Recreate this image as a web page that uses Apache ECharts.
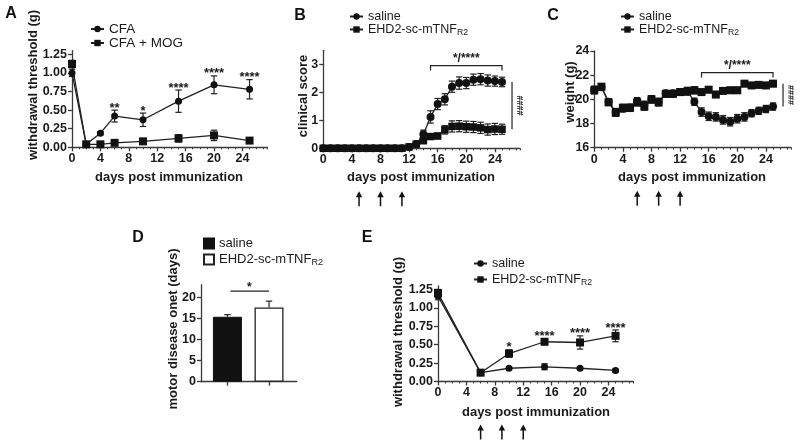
<!DOCTYPE html>
<html><head><meta charset="utf-8">
<script src="https://cdn.jsdelivr.net/npm/echarts@6/dist/echarts.min.js"></script>
<style>html,body{margin:0;padding:0;background:#fff}#c{width:800px;height:448px}</style>
</head><body><div id="c"></div>
<script>
// ---------------- data ----------------
const xTickDays = [0, 4, 8, 12, 16, 20, 24];

// Panel A
const daysA = [0, 2, 4, 6, 10, 15, 20, 25];
const cfaA = [1.00, 0.04, 0.19, 0.42, 0.37, 0.62, 0.84, 0.78];
const cfaErrA = [0.05, 0.02, 0.02, 0.08, 0.09, 0.15, 0.12, 0.13];
const mogA = [1.12, 0.04, 0.04, 0.06, 0.08, 0.12, 0.16, 0.09];
const mogErrA = [0.05, 0.02, 0.01, 0.01, 0.02, 0.05, 0.07, 0.03];
const sigA = ['', '', '', '**', '*', '****', '****', '****'];
const yTicksA = [0, 0.25, 0.5, 0.75, 1.0, 1.25];

// Panel B (clinical score)
const daysB = [0,1,2,3,4,5,6,7,8,9,10,11,12,13,14,15,16,17,18,19,20,21,22,23,24,25];
const salB = [0,0,0,0,0,0,0,0,0,0,0,0,0.05,0.15,0.5,1.12,1.58,1.75,2.2,2.33,2.33,2.45,2.47,2.42,2.4,2.37];
const salErrB = [0,0,0,0,0,0,0,0,0,0,0,0,0.03,0.08,0.15,0.22,0.2,0.2,0.2,0.22,0.2,0.2,0.2,0.2,0.18,0.17];
const ehdB = [0,0,0,0,0,0,0,0,0,0,0,0,0.05,0.15,0.27,0.42,0.44,0.66,0.78,0.79,0.77,0.76,0.73,0.67,0.69,0.68];
const ehdErrB = [0,0,0,0,0,0,0,0,0,0,0,0,0.03,0.06,0.08,0.1,0.1,0.15,0.2,0.2,0.2,0.2,0.2,0.2,0.2,0.18];
const yTicksB = [0, 1, 2, 3];
const arrowsB = [5, 8, 11];

// Panel C (weight)
const daysC = [0,1,2,3,4,5,6,7,8,9,10,11,12,13,14,15,16,17,18,19,20,21,22,23,24,25];
const salC = [20.8,21.0,19.8,18.95,19.25,19.3,19.85,19.55,20.0,19.8,20.5,20.5,20.6,20.7,19.8,18.95,18.6,18.55,18.3,18.15,18.4,18.55,18.85,19.05,19.2,19.4];
const salErrC = [0.3,0.25,0.25,0.3,0.3,0.3,0.3,0.3,0.3,0.3,0.25,0.25,0.25,0.3,0.3,0.35,0.35,0.35,0.35,0.35,0.35,0.35,0.3,0.3,0.3,0.3];
const ehdC = [20.75,21.05,19.75,18.9,19.3,19.3,19.75,19.4,20.0,19.75,20.45,20.45,20.6,20.65,20.75,20.6,20.8,20.4,20.7,20.75,20.75,21.3,21.15,21.2,21.15,21.3];
const ehdErrC = [0.3,0.25,0.25,0.3,0.3,0.3,0.3,0.3,0.3,0.3,0.25,0.25,0.25,0.3,0.3,0.25,0.25,0.25,0.25,0.25,0.25,0.25,0.25,0.25,0.25,0.25];
const arrowsC = [6, 9, 12];

// Panel D (onset)
const groupsD = ['saline', 'EHD2-sc-mTNFR2'];
const onsetD = [15.4, 17.6];
const onsetErrD = [0.5, 1.5];
const yTicksD = [0, 5, 10, 15, 20];

// Panel E
const daysE = [0, 6, 10, 15, 20, 25];
const salE = [1.16, 0.12, 0.18, 0.20, 0.18, 0.15];
const salErrE = [0.05, 0.02, 0.02, 0.04, 0.02, 0.02];
const ehdE = [1.20, 0.12, 0.38, 0.54, 0.53, 0.62];
const ehdErrE = [0.05, 0.02, 0.05, 0.04, 0.09, 0.08];
const sigE = ['', '', '*', '****', '****', '****'];
const arrowsE = [6, 9, 12];

// ---------------- styles ----------------
const FONT = 'Liberation Sans, Arial, Helvetica, sans-serif';
const INK = '#1a1a1a';
const AX = '#3a3a3a';

const chart = echarts.init(document.getElementById('c'), null, {renderer: 'canvas'});

function mainX(grid, ticks) {
  return {
    type: 'value', gridIndex: grid, min: 0, max: 27.5, interval: 4, position: 'bottom',
    axisLine: {lineStyle: {color: AX, width: 1.3}},
    axisTick: {length: 4, lineStyle: {color: AX, width: 1.3}, customValues: ticks},
    axisLabel: {customValues: ticks, color: INK, fontWeight: 'bold', fontSize: 12.5, fontFamily: FONT, margin: 5},
    splitLine: {show: false}
  };
}
function minorX(grid) {
  return {
    type: 'value', gridIndex: grid, min: 0, max: 27.5, interval: 1, position: 'bottom',
    axisLine: {show: false}, axisLabel: {show: false},
    axisTick: {length: 2, lineStyle: {color: AX, width: 1}}, splitLine: {show: false}
  };
}
function yAx(grid, min, max, interval, ticks, fmt) {
  const o = {
    type: 'value', gridIndex: grid, min: min, max: max, interval: interval,
    axisLine: {show: true, lineStyle: {color: AX, width: 1.3}},
    axisTick: {show: true, length: 4, lineStyle: {color: AX, width: 1.3}},
    axisLabel: {color: INK, fontWeight: 'bold', fontSize: 12.5, fontFamily: FONT, margin: 5},
    splitLine: {show: false}
  };
  if (ticks) { o.axisTick.customValues = ticks; o.axisLabel.customValues = ticks; }
  if (fmt) o.axisLabel.formatter = fmt;
  return o;
}

function lineS(name, xi, yi, days, vals, symbol, size) {
  return {
    name: name, type: 'line', xAxisIndex: xi, yAxisIndex: yi,
    data: days.map((d, i) => [d, vals[i]]),
    symbol: symbol, symbolSize: size, showSymbol: true,
    itemStyle: {color: '#111'}, lineStyle: {color: '#222', width: 1.3},
    z: 5, animation: false
  };
}
function errS(xi, yi, days, vals, errs, upOnly) {
  return {
    type: 'custom', xAxisIndex: xi, yAxisIndex: yi, z: 4, animation: false, silent: true,
    data: days.map((d, i) => [d, upOnly ? vals[i] : vals[i] - errs[i], vals[i] + errs[i]]),
    renderItem: function (params, api) {
      const lo = api.coord([api.value(0), api.value(1)]);
      const hi = api.coord([api.value(0), api.value(2)]);
      const w = 3.2;
      const st = {stroke: '#222', lineWidth: 1.2};
      const ch = [
        {type: 'line', shape: {x1: lo[0], y1: lo[1], x2: hi[0], y2: hi[1]}, style: st},
        {type: 'line', shape: {x1: hi[0] - w, y1: hi[1], x2: hi[0] + w, y2: hi[1]}, style: st}
      ];
      if (!upOnly) ch.push({type: 'line', shape: {x1: lo[0] - w, y1: lo[1], x2: lo[0] + w, y2: lo[1]}, style: st});
      return {type: 'group', children: ch};
    }
  };
}
function starS(xi, yi, days, vals, errs, sig) {
  return {
    type: 'custom', xAxisIndex: xi, yAxisIndex: yi, z: 6, animation: false, silent: true,
    data: days.map((d, i) => [d, vals[i] + errs[i], i]),
    renderItem: function (params, api) {
      const p = api.coord([api.value(0), api.value(1)]);
      const t = sig[api.value(2)];
      return {type: 'text', x: p[0], y: p[1] - 2,
        style: {text: t, fill: INK, font: 'bold 13px ' + FONT, align: 'center', verticalAlign: 'middle', textAlign: 'center', textVerticalAlign: 'middle'}};
    }
  };
}
function arrowS(xi, yi, days, yMin) {
  return {
    type: 'custom', xAxisIndex: xi, yAxisIndex: yi, z: 6, animation: false, silent: true, clip: false,
    data: days.map(d => [d, yMin]),
    renderItem: function (params, api) {
      const x = api.coord([api.value(0), api.value(1)])[0];
      const yb = params.coordSys.y + params.coordSys.height;
      return {type: 'group', children: [
        {type: 'line', shape: {x1: x, y1: yb + 47, x2: x, y2: yb + 58}, style: {stroke: '#111', lineWidth: 1.5}},
        {type: 'polygon', shape: {points: [[x, yb + 43], [x - 3.2, yb + 49], [x + 3.2, yb + 49]]}, style: {fill: '#111'}}
      ]};
    }
  };
}
function bracketS(xi, yi, fromDay, toDay, topVal, label) {
  return {
    type: 'custom', xAxisIndex: xi, yAxisIndex: yi, z: 6, animation: false, silent: true, clip: false,
    data: [[fromDay, toDay, topVal]],
    renderItem: function (params, api) {
      const a = api.coord([api.value(0), api.value(2)]);
      const b = api.coord([api.value(1), api.value(2)]);
      const y = a[1] - 8;
      return {type: 'group', children: [
        {type: 'polyline', shape: {points: [[a[0], y + 5], [a[0], y], [b[0], y], [b[0], y + 5]]}, style: {stroke: '#222', lineWidth: 1.2, fill: null}},
        {type: 'text', x: (a[0] + b[0]) / 2, y: y - 1, style: {text: label, fill: INK, font: 'bold 12px ' + FONT, align: 'center', verticalAlign: 'bottom', textAlign: 'center', textVerticalAlign: 'bottom'}}
      ]};
    }
  };
}
function hashS(xi, yi, day, v1, v2) {
  return {
    type: 'custom', xAxisIndex: xi, yAxisIndex: yi, z: 6, animation: false, silent: true, clip: false,
    data: [[day, v1, v2]],
    renderItem: function (params, api) {
      const a = api.coord([api.value(0), api.value(1)]);
      const b = api.coord([api.value(0), api.value(2)]);
      const x = a[0] + 10;
      return {type: 'group', children: [
        {type: 'line', shape: {x1: x, y1: a[1], x2: x, y2: b[1]}, style: {stroke: '#222', lineWidth: 1.2}},
        {type: 'text', x: x + 7, y: (a[1] + b[1]) / 2, rotation: -Math.PI / 2,
          style: {text: '####', fill: INK, font: 'bold 9px ' + FONT, align: 'center', verticalAlign: 'middle', textAlign: 'center', textVerticalAlign: 'middle'}}
      ]};
    }
  };
}
function sigBarS(xi, yi, x1, x2, topVal) {
  return {
    type: 'custom', xAxisIndex: xi, yAxisIndex: yi, z: 6, animation: false, silent: true, clip: false,
    data: [[x1, x2, topVal]],
    renderItem: function (params, api) {
      const a = api.coord([api.value(0), api.value(2)]);
      const b = api.coord([api.value(1), api.value(2)]);
      const y = a[1] - 10;
      return {type: 'group', children: [
        {type: 'line', shape: {x1: a[0] + 3, y1: y, x2: b[0], y2: y}, style: {stroke: '#222', lineWidth: 1.2}},
        {type: 'text', x: (a[0] + b[0]) / 2 + 1, y: y - 3, style: {text: '*', fill: INK, font: 'bold 12px ' + FONT, align: 'center', verticalAlign: 'middle', textAlign: 'center', textVerticalAlign: 'middle'}}
      ]};
    }
  };
}

const nameMap = {A_cfa: 'CFA', A_mog: 'CFA + MOG', B_sal: 'saline', C_sal: 'saline', D_sal: 'saline', E_sal: 'saline'};
function legendFmt(n) {
  if (nameMap[n]) return nameMap[n];
  return '{n|EHD2-sc-mTNF}{s|R2}';
}
const legTxt = (size) => ({
  color: INK, fontSize: size, fontFamily: FONT,
  rich: {n: {fontSize: size, fontFamily: FONT, color: INK}, s: {fontSize: size * 0.7, fontFamily: FONT, color: INK, verticalAlign: 'bottom', padding: [6, 0, 0, 0]}}
});
function legend(data, left, top, gap, size, iw, ih) {
  return {data: data, orient: 'vertical', left: left, top: top, itemGap: gap, padding: 0,
    itemWidth: iw, itemHeight: ih, formatter: legendFmt, textStyle: legTxt(size), selectedMode: false, inactiveColor: '#111'};
}

function titleText(x, y, text, rot) {
  return {type: 'text', x: x, y: y, rotation: rot ? Math.PI / 2 : 0, silent: true,
    style: {text: text, fill: INK, font: 'bold 13px ' + FONT, align: 'center', verticalAlign: 'middle', textAlign: 'center', textVerticalAlign: 'middle'}};
}
function letter(x, y, t) {
  return {type: 'text', x: x, y: y, silent: true,
    style: {text: t, fill: '#111', font: 'bold 16px ' + FONT, align: 'center', verticalAlign: 'middle', textAlign: 'center', textVerticalAlign: 'middle'}};
}

const maxRange = (days, vals, errs, a, b) => Math.max(...days.map((d, i) => (d >= a && d <= b) ? vals[i] + errs[i] : -Infinity));

const option = {
  backgroundColor: '#fff',
  animation: false,
  grid: [
    {left: 72, top: 50.6, width: 195.3, height: 96.7},
    {left: 323.3, top: 50.3, width: 196.6, height: 98},
    {left: 594.3, top: 51, width: 196.6, height: 96.7},
    {left: 201, top: 284.7, width: 95.7, height: 97},
    {left: 438, top: 285.8, width: 195.3, height: 95.7}
  ],
  xAxis: [
    mainX(0, xTickDays), minorX(0),
    mainX(1, xTickDays), minorX(1),
    mainX(2, xTickDays), minorX(2),
    {type: 'value', gridIndex: 3, min: 0.365, max: 2.665, position: 'bottom',
      axisLine: {lineStyle: {color: AX, width: 1.3}},
      axisTick: {length: 4, customValues: [1, 2], lineStyle: {color: AX, width: 1.3}},
      axisLabel: {show: false}, splitLine: {show: false}},
    mainX(4, xTickDays), minorX(4)
  ],
  yAxis: [
    yAx(0, 0, 1.3, 0.25, yTicksA, v => v.toFixed(2)),
    yAx(1, 0, 3.5, 1, yTicksB),
    yAx(2, 16, 24, 2, null),
    yAx(3, 0, 23, 5, yTicksD),
    yAx(4, 0, 1.3, 0.25, yTicksA, v => v.toFixed(2))
  ],
  legend: [
    legend(['A_cfa', 'A_mog'], 90, 22, 0, 13.5, 13, 8),
    legend(['B_sal', 'B_ehd'], 349, 10, 0, 12.5, 13, 8),
    legend(['C_sal', 'C_ehd'], 620, 10, 0, 12.5, 13, 8),
    Object.assign(legend(['D_sal', 'D_ehd'], 203, 237, 3, 13, 10, 10), {icon: 'rect'}),
    legend(['E_sal', 'E_ehd'], 473, 257, 3, 12.5, 13, 8)
  ],
  graphic: [
    letter(11, 14, 'A'), letter(300, 16, 'B'), letter(553, 16, 'C'), letter(138, 238, 'D'), letter(367, 238, 'E'),
    titleText(33, 85, 'withdrawal threshold (g)', true),
    titleText(169, 177, 'days post immunization'),
    titleText(303, 96, 'clinical score', true),
    titleText(421, 177, 'days post immunization'),
    titleText(570, 92, 'weight (g)', true),
    titleText(692, 177, 'days post immunization'),
    titleText(173, 329, 'motor disease onet (days)', true),
    titleText(398, 332, 'withdrawal threshold (g)', true),
    titleText(536, 412, 'days post immunization')
  ],
  series: [
    // A
    errS(0, 0, daysA, cfaA, cfaErrA), errS(0, 0, daysA, mogA, mogErrA),
    lineS('A_cfa', 0, 0, daysA, cfaA, 'circle', 7),
    lineS('A_mog', 0, 0, daysA, mogA, 'rect', 8),
    starS(0, 0, daysA, cfaA, cfaErrA, sigA),
    // B
    errS(2, 1, daysB, salB, salErrB), errS(2, 1, daysB, ehdB, ehdErrB),
    lineS('B_sal', 2, 1, daysB, salB, 'circle', 8),
    lineS('B_ehd', 2, 1, daysB, ehdB, 'rect', 7.5),
    bracketS(2, 1, 15, 25, maxRange(daysB, salB, salErrB, 15, 25), '*/****'),
    hashS(2, 1, 25, salB[salB.length - 1], ehdB[ehdB.length - 1]),
    arrowS(2, 1, arrowsB, 0),
    // C
    errS(4, 2, daysC, salC, salErrC), errS(4, 2, daysC, ehdC, ehdErrC),
    lineS('C_sal', 4, 2, daysC, salC, 'circle', 8),
    lineS('C_ehd', 4, 2, daysC, ehdC, 'rect', 8),
    bracketS(4, 2, 15, 25, maxRange(daysC, ehdC, ehdErrC, 15, 25), '*/****'),
    hashS(4, 2, 25, ehdC[ehdC.length - 1], salC[salC.length - 1]),
    arrowS(4, 2, arrowsC, 16),
    // D
    {name: 'D_sal', type: 'bar', xAxisIndex: 6, yAxisIndex: 3, data: [[1, onsetD[0]]], barWidth: 29, barGap: '-100%',
      itemStyle: {color: '#111', borderColor: '#111', borderWidth: 1}, z: 3},
    {name: 'D_ehd', type: 'bar', xAxisIndex: 6, yAxisIndex: 3, data: [[2, onsetD[1]]], barWidth: 29, barGap: '-100%',
      itemStyle: {color: '#fff', borderColor: '#222', borderWidth: 1.3}, z: 3},
    errS(6, 3, [1, 2], onsetD, onsetErrD, true),
    sigBarS(6, 3, 1, 2, Math.max(...onsetD.map((v, i) => v + onsetErrD[i]))),
    // E
    errS(7, 4, daysE, salE, salErrE), errS(7, 4, daysE, ehdE, ehdErrE),
    lineS('E_sal', 7, 4, daysE, salE, 'circle', 7),
    lineS('E_ehd', 7, 4, daysE, ehdE, 'rect', 8),
    starS(7, 4, daysE, ehdE, ehdErrE, sigE),
    arrowS(7, 4, arrowsE, 0)
  ]
};
chart.setOption(option);
</script>
</body></html>
